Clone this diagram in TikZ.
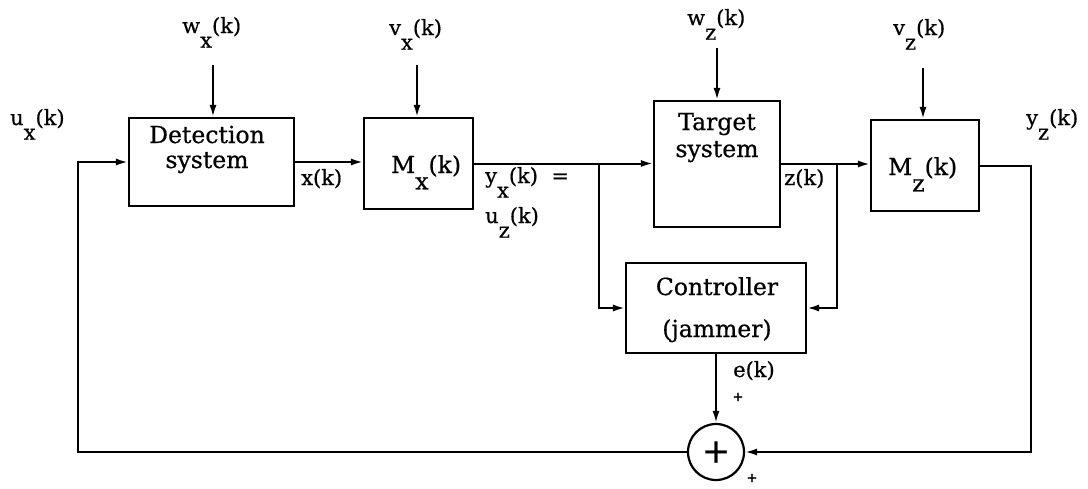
\documentclass[tikz,border=0pt]{standalone}
\usepackage{fontspec}
\setmainfont[FakeBold=0.6]{DejaVu Serif}
\usetikzlibrary{arrows.meta}
\newcommand{\lsb}[2]{#1\raisebox{-0.7em}{#2}}
\begin{document}
\begin{tikzpicture}[x=1pt,y=-1pt,
  blk/.style={draw,line width=2.2pt,inner sep=0pt},
  arr/.style={line width=2pt,-{Latex[length=12pt,width=7pt]}},
  lbl/.style={inner sep=0pt,anchor=base west,font=\fontsize{21}{24}\selectfont},
  btx/.style={inner sep=0pt,font=\fontsize{23.5}{26}\selectfont,anchor=base},
  pls/.style={inner sep=0pt,font=\fontsize{13}{13}\selectfont}]
\path[use as bounding box] (0,0) rectangle (1088,488);

% blocks
\node[blk,minimum width=165pt,minimum height=88pt] (D) at (211.5,162) {};
\node[blk,minimum width=109pt,minimum height=91pt] (MX) at (418.5,163.5) {};
\node[blk,minimum width=126pt,minimum height=126pt] (T) at (717,164) {};
\node[blk,minimum width=108pt,minimum height=91pt] (MZ) at (925,165.5) {};
\node[blk,minimum width=180pt,minimum height=90pt] (C) at (716,308) {};
\node[blk,circle,minimum size=56pt,font=\fontsize{34}{34}\selectfont] (S) at (716,452) {+};

% block texts
\node[btx] (dt1) at (207,143) {Detection};
\node[btx] (dt2) at (207,168) {system};
\node[btx] (tt1) at (717,130) {Target};
\node[btx] (tt2) at (717,157) {system};
\node[btx] (ct1) at (717,295) {Controller};
\node[btx] (ct2) at (717,337) {(jammer)};
\node[btx,anchor=base west] (mxt) at (391,173) {\lsb{M}{x}(k)};
\node[btx,anchor=base west] (mzt) at (888,175) {\lsb{M}{z}(k)};

% signal labels
\node[lbl] (ux) at (10,125) {\lsb{u}{x}(k)};
\node[lbl] (wx) at (182,33) {\lsb{w}{x}(k)};
\node[lbl] (vx) at (389,35) {\lsb{v}{x}(k)};
\node[lbl] (wz) at (687,25) {\lsb{w}{z}(k)};
\node[lbl] (vz) at (893,35) {\lsb{v}{z}(k)};
\node[lbl] (yz) at (1026,125) {\lsb{y}{z}(k)};
\node[lbl] (xk) at (301,185) {x(k)};
\node[lbl] (yx) at (485,183) {\lsb{y}{x}(k)\ \ =};
\node[lbl] (uz) at (485,223) {\lsb{u}{z}(k)};
\node[lbl] (zk) at (784,185) {z(k)};
\node[lbl] (ek) at (733,377) {e(k)};
\node[pls] (p1) at (738,397) {+};
\node[pls] (p2) at (752,478) {+};

% disturbance inputs
\coordinate (wxs) at (213,65);
\coordinate (vxs) at (417,65);
\coordinate (wzs) at (717,48);
\coordinate (vzs) at (923,68);
\draw[arr] (wxs) -- (wxs |- D.north);
\draw[arr] (vxs) -- (vxs |- MX.north);
\draw[arr] (wzs) -- (wzs |- T.north);
\draw[arr] (vzs) -- (vzs |- MZ.north);

% main path
\coordinate (lc) at (78,162);
\draw[arr] (S.west) -| (lc) -- (D.west);
\draw[arr] (D.east) -- (MX.west |- D.east);
\draw[arr] (MX.east) -- (T.west |- MX.east);
\coordinate (b1) at (599,163.5);
\draw[arr] (b1) |- (C.west);
\draw[arr] (T.east) -- (MZ.west |- T.east);
\coordinate (b2) at (837,164);
\draw[arr] (b2) |- (C.east);
\coordinate (rc) at (1031,452);
\draw[arr] (MZ.east) -| (rc) -- (S.east);
\draw[arr] (C.south) -- (S.north);
\end{tikzpicture}
\end{document}
